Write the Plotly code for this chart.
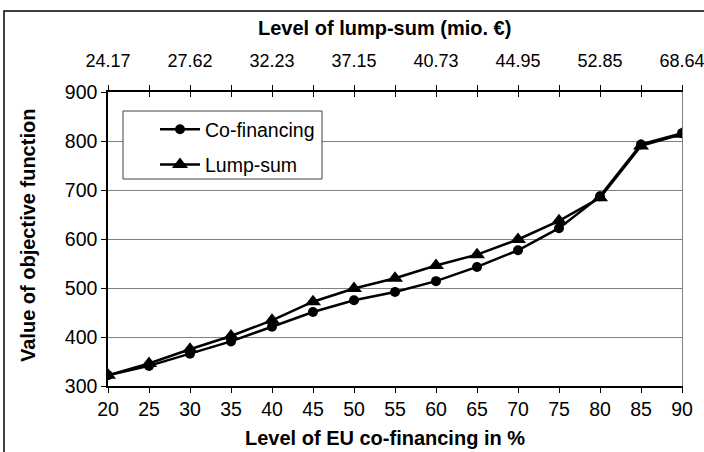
import plotly.graph_objects as go

cofin_pct = [20, 25, 30, 35, 40, 45, 50, 55, 60, 65, 70, 75, 80, 85, 90]
cofinancing = [322, 341, 366, 391, 421, 451, 475, 492, 514, 543, 577, 622, 687, 793, 816]
lumpsum = [322, 346, 375, 402, 434, 472, 499, 520, 546, 568, 599, 637, 684, 790, 814]

top_tick_pos = [20, 30, 40, 50, 60, 70, 80, 90]
top_tick_text = ["24.17", "27.62", "32.23", "37.15", "40.73", "44.95", "52.85", "68.64"]
all_ticks = list(range(20, 95, 5))

W, H = 704, 452
ML, MR, MT, MB = 108, 22, 92, 66
PW, PH = W - ML - MR, H - MT - MB


def px(x):
    return (x - ML) / PW


def py(y):
    return (H - MB - y) / PH


fig = go.Figure()
fig.add_trace(go.Scatter(
    x=cofin_pct, y=cofinancing, name="Co-financing", mode="lines+markers",
    line=dict(color="black", width=2.5),
    marker=dict(symbol="circle", size=10, color="black"),
    legendgroup="a"))
fig.add_trace(go.Scatter(
    x=cofin_pct, y=lumpsum, name="Lump-sum", mode="lines+markers",
    line=dict(color="black", width=2.5),
    marker=dict(symbol="triangle-up", size=14, color="black"),
    legendgroup="b"))

# invisible traces to activate secondary axes
fig.add_trace(go.Scatter(x=[20, 90], y=[300, 900], xaxis="x2", yaxis="y2",
                         mode="markers", marker=dict(opacity=0), showlegend=False,
                         hoverinfo="skip"))
fig.add_trace(go.Scatter(x=[20, 90], y=[300, 900], xaxis="x3", yaxis="y",
                         mode="markers", marker=dict(opacity=0), showlegend=False,
                         hoverinfo="skip"))

tickfont = dict(family="Liberation Sans, Arial", size=19.5, color="black")
toptickfont = dict(family="Liberation Sans, Arial", size=18, color="black")
titlefont = dict(family="Liberation Sans, Arial", size=20, color="black")

fig.update_layout(
    width=W, height=H,
    margin=dict(l=ML, r=MR, t=MT, b=MB, autoexpand=False),
    paper_bgcolor="white", plot_bgcolor="white",
    showlegend=True,
    xaxis=dict(range=[20, 90], tickvals=all_ticks, ticks="outside", ticklen=5,
               tickcolor="black", tickwidth=1, showline=True, linecolor="black",
               linewidth=1.5, showgrid=False, zeroline=False, tickfont=tickfont,
               ticklabeloverflow="allow", automargin=False),
    xaxis2=dict(range=[20, 90], overlaying="x", side="top", anchor="y",
                tickvals=all_ticks,
                ticktext=[top_tick_text[top_tick_pos.index(v)] if v in top_tick_pos else ""
                          for v in all_ticks],
                ticks="outside", ticklen=5, tickcolor="black", tickwidth=1,
                showline=True, linecolor="black", linewidth=1.5, showgrid=False,
                zeroline=False, tickfont=toptickfont, ticklabelstandoff=11,
                ticklabeloverflow="allow", automargin=False),
    xaxis3=dict(range=[20, 90], overlaying="x", side="top", anchor="y",
                tickvals=all_ticks, ticks="inside", ticklen=5, tickcolor="black",
                tickwidth=1, showticklabels=False, showline=False, showgrid=False,
                zeroline=False, automargin=False),
    yaxis=dict(range=[300, 900], dtick=100, ticks="outside", ticklen=5,
               tickcolor="black", showline=True, linecolor="black", linewidth=1.5,
               showgrid=True, gridcolor="#808080", gridwidth=1, zeroline=False,
               tickfont=tickfont, automargin=False),
    yaxis2=dict(range=[300, 900], overlaying="y", side="right", anchor="x",
                showline=True, linecolor="#808080", linewidth=1, showticklabels=False,
                ticks="", showgrid=False, zeroline=False, automargin=False),
    legend=dict(x=px(155), y=py(110), xanchor="left", yanchor="top",
                bgcolor="rgba(0,0,0,0)", borderwidth=0, itemwidth=40,
                font=dict(family="Liberation Sans, Arial", size=19.5, color="black"),
                traceorder="grouped", tracegroupgap=7),
    shapes=[
        dict(type="rect", xref="paper", yref="paper", x0=px(4), x1=px(712),
             y0=py(462), y1=py(11), line=dict(color="black", width=1.5),
             fillcolor="rgba(0,0,0,0)", layer="below"),
        dict(type="rect", xref="paper", yref="paper", x0=px(123), x1=px(322),
             y0=py(179), y1=py(111), line=dict(color="#404040", width=1),
             fillcolor="white", layer="above"),
    ],
    annotations=[
        dict(text="<b>Level of lump-sum (mio. €)</b>", xref="paper", yref="paper",
             x=px(384), y=py(28), showarrow=False, font=titlefont,
             xanchor="center", yanchor="middle"),
        dict(text="<b>Level of EU co-financing in %</b>", xref="paper", yref="paper",
             x=px(385), y=py(438), showarrow=False, font=titlefont,
             xanchor="center", yanchor="middle"),
        dict(text="<b>Value of objective function</b>", xref="paper", yref="paper",
             x=px(28), y=py(236), showarrow=False, font=titlefont, textangle=-90,
             xanchor="center", yanchor="middle"),
    ],
)

fig.write_html("out.html",
               config={"displayModeBar": False},
               post_script="document.body.style.margin='0px';"
                           "document.body.style.overflow='hidden';")
